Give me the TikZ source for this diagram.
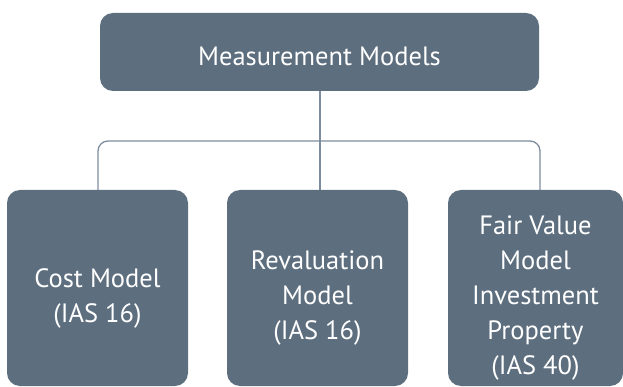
\documentclass[tikz,border=0pt]{standalone}
\usepackage{fontspec}
\setmainfont{PT Sans}
\definecolor{boxfill}{HTML}{5D6E7F}
\definecolor{linkcol}{HTML}{7D8D9E}
\begin{document}
\begin{tikzpicture}[x=1pt,y=-1pt,
  box/.style={fill=boxfill, draw=none, rounded corners=13pt, inner sep=0pt, outer sep=0pt},
  boxtext/.style={inner sep=0pt, text=white, align=center, font=\fontsize{26.5}{35}\selectfont},
  link/.style={draw=linkcol, line width=1.3pt}]
\useasboundingbox (0,0) rectangle (623,387);
\node[box, minimum width=439pt, minimum height=78pt] (top) at (319.5,52) {};
\node[box, minimum width=181pt, minimum height=196pt] (cost) at (97.5,288) {};
\node[box, minimum width=181pt, minimum height=196pt] (reval) at (317.5,288) {};
\node[box, minimum width=175pt, minimum height=196pt] (fair) at (535.5,288) {};
\node[boxtext] (topt) at ([yshift=-4pt]top.center) {Measurement Models};
\node[boxtext] (costt) at ([yshift=-10pt]cost.center) {Cost Model\\(IAS 16)};
\node[boxtext] (revalt) at ([yshift=-10pt]reval.center) {Revaluation\\Model\\(IAS 16)};
\node[boxtext] (fairt) at ([yshift=-10pt]fair.center) {Fair Value\\Model\\Investment\\Property\\(IAS 40)};
\coordinate (fj) at (540,190);
\coordinate (cj) at (98,190);
\coordinate (mj) at (320,190);
\draw[link] (top.south -| mj) -- (mj);
\draw[link, rounded corners=10pt] (cj) -- (98,141) -- (540,141) -- (fj);
\end{tikzpicture}
\end{document}
